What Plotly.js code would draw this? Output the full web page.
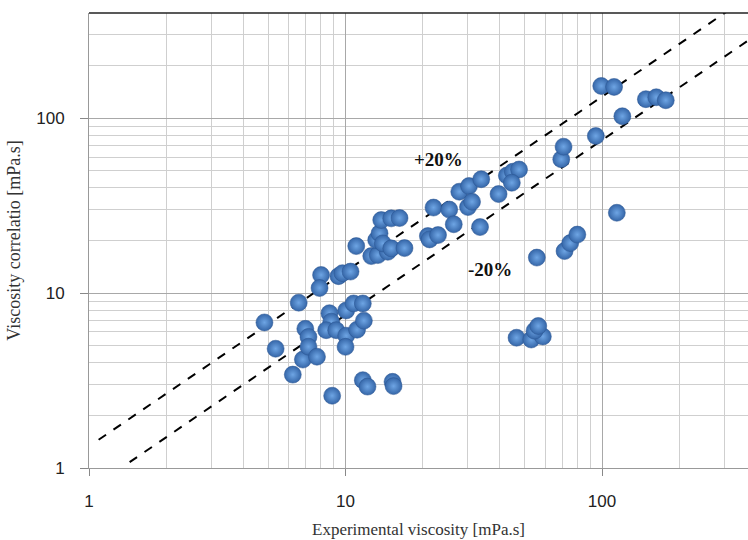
<!DOCTYPE html>
<html>
<head>
<meta charset="utf-8">
<script src="https://cdn.plot.ly/plotly-3.0.1.min.js"></script>
<style>html,body{margin:0;padding:0;background:#fff;}#chart{width:748px;height:540px;}</style>
</head>
<body>
<div id="chart"></div>
<script>
// Experimental viscosity [mPa.s]
const expVisc = [4.83, 5.34, 6.23, 6.57, 6.82, 6.97, 7.17, 7.17, 7.74, 8.87,
  8.03, 7.92, 8.66, 8.80, 8.41, 9.20, 10.06, 10.0, 10.06, 10.75,
  11.68, 11.09, 11.79, 11.68, 12.18, 9.39, 9.73, 10.46, 15.25, 15.39,
  11.01, 12.60, 13.36, 14.62, 13.17, 13.57, 13.98, 15.08, 16.98, 13.78,
  15.08, 16.24, 20.94, 21.26, 22.94, 22.03, 25.37, 26.42, 27.76, 30.30,
  33.81, 30.03, 31.13, 33.45, 39.50, 42.56, 44.90, 47.47, 44.50, 69.34,
  70.78, 94.58, 120.0, 114.2, 55.69, 71.42, 75.16, 80.10, 46.42, 52.97,
  58.78, 54.56, 56.41, 99.3, 111.4, 148.2, 162.7, 177.2];
// Viscosity from correlation [mPa.s]
const corrVisc = [6.80, 4.81, 3.42, 8.82, 4.17, 6.25, 5.62, 4.94, 4.33, 2.59,
  12.7, 10.7, 7.68, 6.87, 6.14, 6.14, 5.71, 4.93, 7.96, 8.73,
  8.73, 6.18, 6.96, 3.18, 2.92, 12.51, 13.01, 13.28, 3.11, 2.94,
  18.58, 16.29, 16.50, 17.24, 20.11, 21.97, 19.25, 18.03, 18.10, 26.18,
  26.77, 26.88, 21.20, 20.29, 21.48, 30.86, 30.06, 24.77, 38.01, 40.98,
  44.81, 31.07, 33.31, 23.87, 36.87, 47.06, 49.47, 50.93, 42.80, 58.32,
  68.78, 79.17, 102.7, 28.82, 15.97, 17.40, 19.33, 21.62, 5.56, 5.43,
  5.65, 6.10, 6.49, 153.0, 151.1, 128.6, 131.9, 126.8];
// Deviation lines
const upperX = [1.09, 318];
const upperY = [1.45, 423];
const lowerX = [1.44, 400];
const lowerY = [1.08, 300];
const xTicks = [1, 10, 100];
const yTicks = [1, 10, 100];

const lineStyle = {color: '#000', width: 2, dash: 'dash'};
const traces = [
  {x: upperX, y: upperY, mode: 'lines', line: lineStyle, hoverinfo: 'skip', showlegend: false},
  {x: lowerX, y: lowerY, mode: 'lines', line: lineStyle, hoverinfo: 'skip', showlegend: false},
  {x: expVisc, y: corrVisc, mode: 'markers', showlegend: false, cliponaxis: false,
   marker: {size: 17, color: '#3566a8', line: {width: 0.5, color: '#2a5590'},
            gradient: {type: 'radial', color: '#6ea5e4'}}}
];

const axisFont = {family: 'Liberation Sans, Arial, sans-serif', size: 17, color: '#222'};
const serif = 'Liberation Serif, Times New Roman, serif';
const layout = {
  width: 748, height: 540,
  margin: {l: 89, r: 0, t: 13, b: 72, pad: 0},
  paper_bgcolor: '#fff', plot_bgcolor: '#fff',
  xaxis: {
    type: 'log', range: [0, 2.569],
    tickvals: xTicks, ticktext: xTicks.map(String),
    ticks: 'outside', ticklen: 7, tickcolor: '#888', tickwidth: 1,
    ticklabelstandoff: 11,
    showgrid: true, gridcolor: '#a8a8a8', gridwidth: 1,
    minor: {dtick: 'D1', showgrid: true, gridcolor: '#cfcfcf', gridwidth: 1, ticks: ''},
    showline: true, linecolor: '#999', linewidth: 1,
    zeroline: false, tickfont: axisFont,
    title: {text: 'Experimental viscosity [mPa.s]', standoff: 12,
            font: {family: serif, size: 17, color: '#333'}}
  },
  yaxis: {
    type: 'log', range: [0, 2.602],
    tickvals: yTicks, ticktext: yTicks.map(String),
    ticks: 'outside', ticklen: 8, tickcolor: '#888', tickwidth: 1,
    ticklabelstandoff: 12,
    showgrid: true, gridcolor: '#a8a8a8', gridwidth: 1,
    minor: {dtick: 'D1', showgrid: true, gridcolor: '#cfcfcf', gridwidth: 1, ticks: ''},
    showline: true, linecolor: '#999', linewidth: 1,
    zeroline: false, tickfont: axisFont,
    title: {text: 'Viscosity correlatio [mPa.s]', standoff: 10,
            font: {family: serif, size: 18, color: '#333'}}
  },
  shapes: [
    {type: 'line', xref: 'paper', yref: 'paper', x0: 0, x1: 1, y0: 1, y1: 1,
     line: {color: '#222', width: 1.5}}
  ],
  annotations: [
    {xref: 'paper', yref: 'paper', x: 0.531, y: 0.705, text: '<b>+20%</b>', showarrow: false,
     font: {family: serif, size: 19, color: '#111'}},
    {xref: 'paper', yref: 'paper', x: 0.608, y: 0.437, text: '<b>-20%</b>', showarrow: false,
     font: {family: serif, size: 19, color: '#111'}}
  ]
};

Plotly.newPlot('chart', traces, layout, {displayModeBar: false, staticPlot: true});
</script>
</body>
</html>
